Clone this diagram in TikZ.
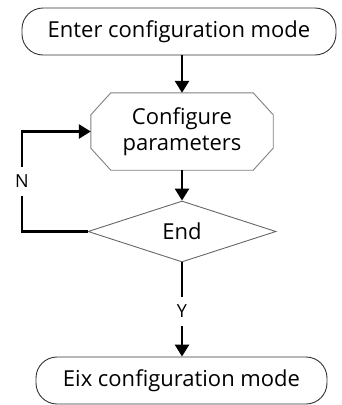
\documentclass[tikz,border=0pt]{standalone}
\usepackage{fontspec}
\setmainfont{Open Sans}
\usetikzlibrary{shapes.geometric,arrows.meta,calc}
\begin{document}
\begin{tikzpicture}[x=1pt,y=-1pt,
  font=\fontsize{22}{27}\selectfont,
  term/.style={draw=black!80,line width=0.9pt,rounded corners=21pt,minimum height=47pt,inner sep=0pt},
  octbox/.style={minimum width=182pt,minimum height=77pt,inner sep=0pt,align=center},
  decbox/.style={draw=black!60,line width=0.9pt,diamond,minimum width=188pt,minimum height=61pt,inner sep=0pt},
  conn/.style={line width=2.6pt,black},
  arr/.style={conn,-{Triangle[length=12pt,width=14pt]}},
  lab/.style={fill=white,inner ysep=8pt,inner xsep=3pt,font=\fontsize{18}{22}\selectfont}
]
\useasboundingbox (0,0) rectangle (341,405);
\node[term,minimum width=314pt] (top) at (179,31.5) {Enter configuration mode};
\node[octbox] (oct) at (182,131.5) {Configure\\[-1pt]parameters};
\draw[draw=black!50,line width=0.9pt]
  ($(oct.north west)+(20,0)$) -- ($(oct.north east)+(-20,0)$) -- ($(oct.north east)+(0,22)$)
  -- ($(oct.south east)+(0,-22)$) -- ($(oct.south east)+(-20,0)$) -- ($(oct.south west)+(20,0)$)
  -- ($(oct.south west)+(0,-22)$) -- ($(oct.north west)+(0,22)$) -- cycle;
\node[decbox] (dia) at (182,231.5) {End};
\node[term,minimum width=291pt] (bot) at (181.5,380.5) {Eix configuration mode};
\coordinate (c) at (22,231.5);
\draw[arr] (oct.north |- top.south) -- (oct.north);
\draw[arr] (oct.south) -- (dia.north);
\draw[arr] (dia.west) -- (c) -- node[lab]{N} (c |- oct.west) -- (oct.west);
\draw[arr] (dia.south) -- node[lab,pos=0.52]{Y} (dia.south |- bot.north);
\end{tikzpicture}
\end{document}
